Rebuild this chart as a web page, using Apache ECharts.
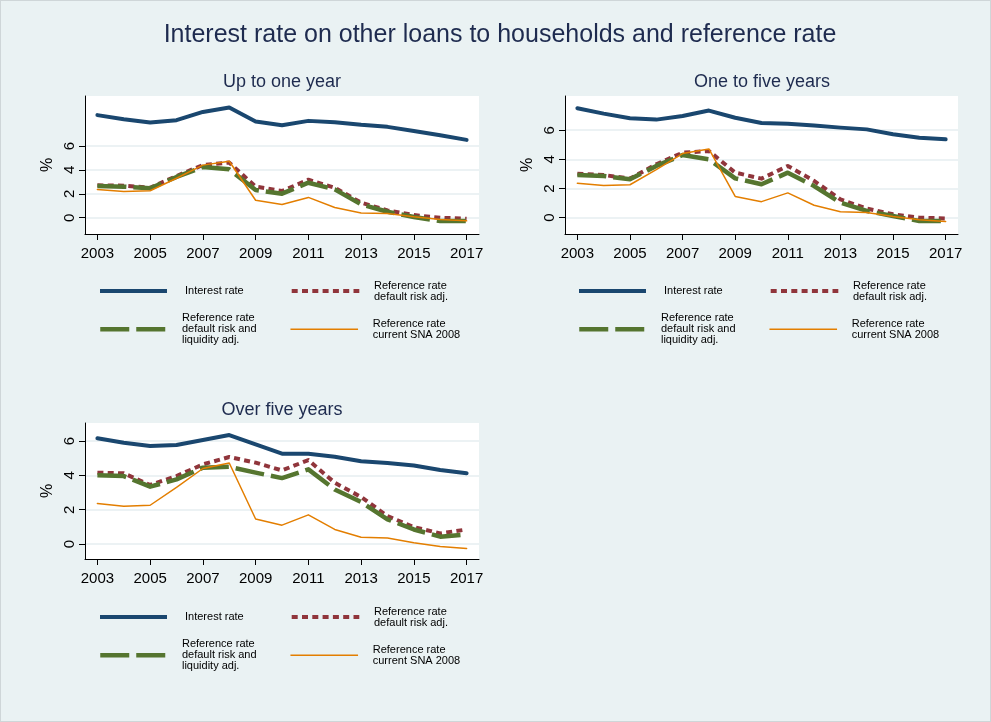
<!DOCTYPE html>
<html>
<head>
<meta charset="utf-8">
<script src="https://cdn.jsdelivr.net/npm/echarts@6/dist/echarts.min.js"></script>
<style>
  html, body { margin: 0; padding: 0; background: #eaf2f3; }
  #chart { width: 989px; height: 720px; border: 1px solid #cfd6d8; }
</style>
</head>
<body>
<div id="chart"></div>
<script>
// ---------- data ----------
const years = [2003, 2004, 2005, 2006, 2007, 2008, 2009, 2010, 2011, 2012, 2013, 2014, 2015, 2016, 2017];
const xTickLabels = [2003, 2005, 2007, 2009, 2011, 2013, 2015, 2017];
const yTickLabels = [0, 2, 4, 6];

const panelTitles = ['Up to one year', 'One to five years', 'Over five years'];
const seriesNames = [
  'Interest rate',
  'Reference rate\ndefault risk adj.',
  'Reference rate\ndefault risk and\nliquidity adj.',
  'Reference rate\ncurrent SNA 2008'
];

// Reference rate, current SNA 2008 (same in all panels)
const snaRate = [2.36, 2.20, 2.26, 3.30, 4.40, 4.72, 1.46, 1.10, 1.70, 0.85, 0.40, 0.35, 0.08, -0.14, -0.26];

// Up to one year
const upToOneInterest = [8.58, 8.24, 7.96, 8.16, 8.85, 9.22, 8.04, 7.74, 8.10, 7.99, 7.77, 7.60, 7.26, 6.90, 6.51];
const upToOneRisk     = [2.71, 2.68, 2.51, 3.49, 4.41, 4.61, 2.60, 2.23, 3.18, 2.51, 1.26, 0.61, 0.22, 0.00, -0.08];
const upToOneRiskLiq  = [2.65, 2.60, 2.46, 3.41, 4.25, 4.05, 2.32, 2.01, 2.93, 2.37, 1.12, 0.50, 0.06, -0.28, -0.28];

// One to five years
const oneToFiveInterest = [7.51, 7.14, 6.82, 6.73, 6.98, 7.35, 6.86, 6.50, 6.45, 6.32, 6.18, 6.06, 5.72, 5.49, 5.38];
const oneToFiveRisk     = [3.02, 2.93, 2.68, 3.66, 4.46, 4.58, 3.09, 2.68, 3.55, 2.52, 1.26, 0.62, 0.23, 0.00, -0.05];
const oneToFiveRiskLiq  = [2.93, 2.86, 2.63, 3.55, 4.30, 4.00, 2.70, 2.29, 3.09, 2.17, 1.03, 0.46, 0.11, -0.23, -0.23];

// Over five years
const overFiveInterest = [6.16, 5.90, 5.71, 5.77, 6.06, 6.35, 5.81, 5.26, 5.26, 5.09, 4.82, 4.72, 4.58, 4.31, 4.12];
const overFiveRisk     = [4.16, 4.12, 3.44, 3.96, 4.64, 5.07, 4.74, 4.29, 4.89, 3.57, 2.74, 1.63, 0.99, 0.62, 0.85];
const overFiveRiskLiq  = [4.00, 3.96, 3.34, 3.77, 4.45, 4.50, 4.16, 3.84, 4.35, 3.18, 2.45, 1.44, 0.85, 0.43, 0.56];

// ---------- styling / layout ----------
const FONT = 'Liberation Sans, Arial, sans-serif';
const TITLE_COLOR = '#1e2b4f';
const colors = ['#1a476f', '#90353b', '#55752f', '#e37e00'];
const lineStyles = [
  { width: 4, type: 'solid', cap: 'round', join: 'round' },
  { width: 4, type: [6, 4.3], cap: 'butt', join: 'round' },
  { width: 4.5, type: [29, 7], cap: 'butt', join: 'round' },
  { width: 1.5, type: 'solid', cap: 'round', join: 'round' }
];

const panels = [
  { data: [upToOneInterest, upToOneRisk, upToOneRiskLiq, snaRate],
    grid: { left: 84, top: 95, width: 394, height: 138 }, yMin: -1.36, yMax: 10.18,
    titleX: 276, titleY: 67, legendX: 97, legendY: 290 },
  { data: [oneToFiveInterest, oneToFiveRisk, oneToFiveRiskLiq, snaRate],
    grid: { left: 564, top: 95, width: 393, height: 138 }, yMin: -1.12, yMax: 8.35,
    titleX: 756, titleY: 67, legendX: 576, legendY: 290 },
  { data: [overFiveInterest, overFiveRisk, overFiveRiskLiq, snaRate],
    grid: { left: 84, top: 422, width: 394, height: 136 }, yMin: -0.87, yMax: 7.05,
    titleX: 276, titleY: 395, legendX: 97, legendY: 616 }
];

const option = {
  backgroundColor: '#eaf2f3',
  animation: false,
  textStyle: { fontFamily: FONT },
  title: [{
    text: 'Interest rate on other loans to households and reference rate',
    left: 494, top: 17, textAlign: 'center',
    textStyle: { fontFamily: FONT, fontSize: 25, fontWeight: 'normal', color: TITLE_COLOR }
  }],
  grid: [], xAxis: [], yAxis: [], series: [], legend: []
};

panels.forEach((p, i) => {
  option.title.push({
    text: panelTitles[i], left: p.titleX, top: p.titleY, textAlign: 'center',
    textStyle: { fontFamily: FONT, fontSize: 18, fontWeight: 'normal', color: TITLE_COLOR }
  });
  option.grid.push(Object.assign({ show: true, backgroundColor: '#ffffff', borderWidth: 0 }, p.grid));
  option.xAxis.push({
    type: 'value', gridIndex: i, min: 2002.53, max: 2017.47,
    axisLine: { show: true, onZero: false, lineStyle: { color: '#000', width: 1 } },
    axisTick: { show: true, length: 6, customValues: xTickLabels, lineStyle: { color: '#000' } },
    axisLabel: { customValues: xTickLabels, margin: 12, fontSize: 15, color: '#000', fontFamily: FONT,
                 formatter: v => String(v) },
    splitLine: { show: false }
  });
  option.yAxis.push({
    type: 'value', gridIndex: i, min: p.yMin, max: p.yMax,
    name: '%', nameLocation: 'middle', nameRotate: 90, nameGap: 29,
    nameTextStyle: { fontSize: 16, color: '#000', fontFamily: FONT },
    axisLine: { show: true, onZero: false, lineStyle: { color: '#000', width: 1 } },
    axisTick: { show: true, length: 6, customValues: yTickLabels, lineStyle: { color: '#000' } },
    axisLabel: { customValues: yTickLabels, rotate: 90, margin: 8, fontSize: 15, color: '#000', fontFamily: FONT },
    splitLine: { show: true, lineStyle: { color: '#e6eef0', width: 1.5 } }
  });
  p.data.forEach((vals, k) => {
    option.series.push({
      name: seriesNames[k], type: 'line', xAxisIndex: i, yAxisIndex: i,
      data: years.map((y, j) => [y, vals[j]]),
      symbol: 'none', showSymbol: false, silent: true,
      color: colors[k],
      lineStyle: Object.assign({ color: colors[k] }, lineStyles[k]),
      z: 2 + k
    });
  });
  // legend: one component per key, laid out like the original 2x2 key block
  const lx = p.legendX, ly = p.legendY;
  const keys = [
    { k: 0, x: lx,         cy: ly,       lines: 1, w: 67, pad: 13 },
    { k: 1, x: lx + 191.7, cy: ly,       lines: 2, w: 67.6, pad: 9.7 },
    { k: 2, x: lx,         cy: ly + 38.3, lines: 3, w: 65, pad: 11.7 },
    { k: 3, x: lx + 191.7, cy: ly + 38.3, lines: 2, w: 67.6, pad: 9.7 }
  ];
  keys.forEach(key => {
    const LH = 11;
    const half = Math.max(5, key.lines * LH / 2);
    option.legend.push({
      data: [seriesNames[key.k]],
      left: key.x, top: key.cy - half,
      padding: 0, itemWidth: key.w, itemHeight: 10,
      selectedMode: false,
      itemStyle: { color: 'transparent', borderWidth: 0, opacity: 0 },
      lineStyle: { width: lineStyles[key.k].width, type: lineStyles[key.k].type, cap: 'butt' },
      textStyle: { fontFamily: FONT, fontSize: 11, lineHeight: LH, color: '#000',
                   padding: [0, 0, 0, key.pad] }
    });
  });
});

const chart = echarts.init(document.getElementById('chart'), null, { renderer: 'canvas' });
chart.setOption(option);
</script>
</body>
</html>
